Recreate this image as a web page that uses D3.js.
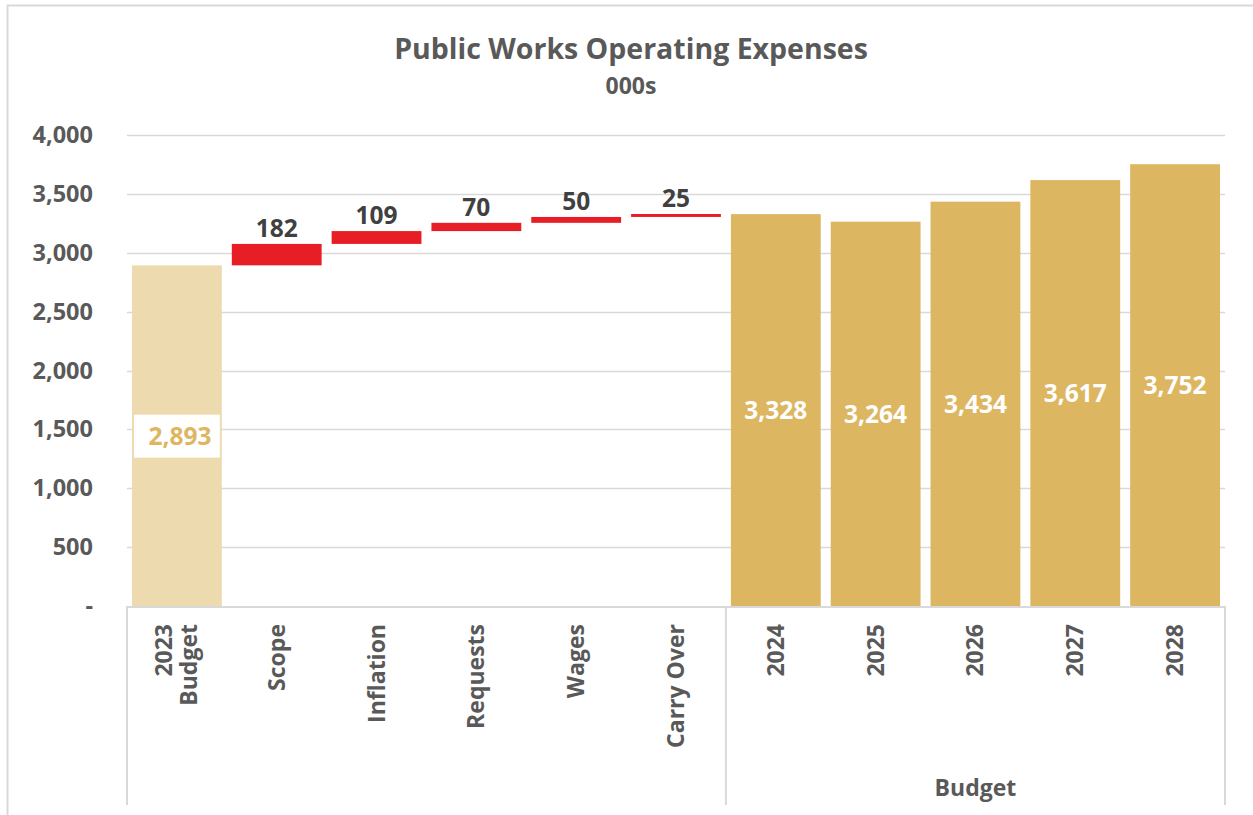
<!DOCTYPE html>
<html>
<head>
<meta charset="utf-8">
<script src="https://cdn.jsdelivr.net/npm/d3@7"></script>
<style>
  html, body { margin: 0; padding: 0; background: #fff; }
  svg { display: block; font-family: "Open Sans", "Noto Sans", sans-serif; }
</style>
</head>
<body>
<svg id="chart" width="1253" height="815"></svg>
<script>
// Category labels (one per bar); multi-line labels split with "\n"
const categories = ["2023\nBudget", "Scope", "Inflation", "Requests", "Wages", "Carry Over",
                    "2024", "2025", "2026", "2027", "2028"];
// Bar kind: start total, waterfall increment, forecast budget
const kinds = ["start", "step", "step", "step", "step", "step",
               "budget", "budget", "budget", "budget", "budget"];
// Values in thousands
const values = [2893, 182, 109, 70, 50, 25, 3328, 3264, 3434, 3617, 3752];
// Second-level category groups: [first index, last index, label]
const groups = [[0, 5, ""], [6, 10, "Budget"]];
// Y axis ticks
const yTicks = [0, 500, 1000, 1500, 2000, 2500, 3000, 3500, 4000];

const svg = d3.select("#chart");
const W = 1253, H = 815;
const plot = { left: 127, right: 1225, top: 135, bottom: 606 };

const colors = { start: "#EEDAAF", step: "#E81E27", budget: "#DDB662" };
const textGray = "#595959";
const gridGray = "#D9D9D9";
const FS = { title: 28.5, sub: 23, tick: 23.5, value: 24.5, cat: 23, group: 23 };

// Chart area border
svg.append("path")
  .attr("d", `M7.5,${H + 2} V5.5 H${W + 2}`)
  .attr("fill", "none").attr("stroke", gridGray).attr("stroke-width", 2);

// Scales
const x = d3.scaleBand().domain(d3.range(categories.length))
  .range([plot.left, plot.right]).paddingInner(0.1).paddingOuter(0.05);
const y = d3.scaleLinear().domain([0, 4000]).range([plot.bottom, plot.top]);

// Floating segments for the waterfall part
let running = 0;
const bars = values.map((v, i) => {
  let lo, hi;
  if (kinds[i] === "start") { lo = 0; hi = v; running = v; }
  else if (kinds[i] === "step") { lo = running; hi = running + v; running = hi; }
  else { lo = 0; hi = v; }
  return { i, v, lo, hi, kind: kinds[i] };
});

// Gridlines
svg.append("g")
  .selectAll("line").data(yTicks.filter(t => t > 0)).join("line")
  .attr("x1", plot.left).attr("x2", plot.right)
  .attr("y1", d => Math.round(y(d)) + 0.5).attr("y2", d => Math.round(y(d)) + 0.5)
  .attr("stroke", gridGray).attr("stroke-width", 1.5);

// Y axis labels
const yAxis = d3.axisLeft(y).tickValues(yTicks)
  .tickFormat(d => d === 0 ? "-" : d3.format(",")(d)).tickSize(0).tickPadding(0);
const gy = svg.append("g").attr("transform", `translate(${93},0)`).call(yAxis);
gy.select(".domain").remove();
gy.selectAll("text")
  .attr("fill", textGray).attr("font-size", FS.tick).attr("font-weight", "bold")
  .attr("font-family", "'Open Sans', sans-serif");

// Bars
svg.append("g").selectAll("rect").data(bars).join("rect")
  .attr("x", d => x(d.i))
  .attr("width", x.bandwidth())
  .attr("y", d => y(d.hi))
  .attr("height", d => y(d.lo) - y(d.hi))
  .attr("fill", d => colors[d.kind]);

// Value labels: steps above the bar, totals centred in the bar
const labels = svg.append("g").attr("font-weight", "bold").attr("text-anchor", "middle");
bars.forEach(d => {
  const cx = x(d.i) + x.bandwidth() / 2;
  const txt = d3.format(",")(d.v);
  if (d.kind === "step") {
    labels.append("text").attr("x", cx).attr("y", y(d.hi) - 7)
      .attr("font-size", FS.value).attr("fill", "#404040").text(txt);
  } else if (d.kind === "start") {
    const cy = y(d.hi / 2);
    labels.append("rect").attr("x", x(d.i) + 2).attr("y", cy - 21)
      .attr("width", x.bandwidth() - 4).attr("height", 43).attr("fill", "#fff");
    labels.append("text").attr("x", cx + 3).attr("y", cy + 9)
      .attr("font-size", FS.value).attr("fill", "#DDB662").text(txt);
  } else {
    labels.append("text").attr("x", cx).attr("y", y(d.hi / 2) + 9)
      .attr("font-size", FS.value).attr("fill", "#fff").text(txt);
  }
});

// Category axis lines
const axisG = svg.append("g").attr("stroke", gridGray).attr("stroke-width", 2);
axisG.append("line").attr("x1", plot.left - 1).attr("x2", plot.right + 1)
  .attr("y1", plot.bottom + 1).attr("y2", plot.bottom + 1);
// Group boundaries: plot edges and the midpoint between groups
const bounds = [plot.left];
groups.forEach((g, k) => {
  if (k < groups.length - 1) bounds.push((x(g[1]) + x.bandwidth() + x(groups[k + 1][0])) / 2);
});
bounds.push(plot.right);
axisG.selectAll("line.div").data(bounds).join("line").attr("class", "div")
  .attr("x1", d => d).attr("x2", d => d)
  .attr("y1", plot.bottom + 1).attr("y2", 805);

// Rotated category labels
const catG = svg.append("g").attr("fill", textGray).attr("font-size", FS.cat).attr("font-weight", "bold");
categories.forEach((c, i) => {
  const lines = c.split("\n");
  const cx = x(i) + x.bandwidth() / 2;
  const lh = 25;
  lines.forEach((ln, j) => {
    const off = (j - (lines.length - 1) / 2) * lh + 8;
    catG.append("text")
      .attr("transform", `translate(${cx + off},${624}) rotate(-90)`)
      .attr("text-anchor", "end").text(ln);
  });
});

// Group labels
groups.forEach((g, k) => {
  if (!g[2]) return;
  svg.append("text")
    .attr("x", (bounds[k] + bounds[k + 1]) / 2).attr("y", 796)
    .attr("text-anchor", "middle").attr("fill", textGray)
    .attr("font-size", FS.group).attr("font-weight", "bold").text(g[2]);
});

// Title and subtitle
svg.append("text").attr("x", 631).attr("y", 59).attr("text-anchor", "middle")
  .attr("fill", textGray).attr("font-size", FS.title).attr("font-weight", "bold")
  .text("Public Works Operating Expenses");
svg.append("text").attr("x", 631).attr("y", 94).attr("text-anchor", "middle")
  .attr("fill", textGray).attr("font-size", FS.sub).attr("font-weight", "bold")
  .text("000s");
</script>
</body>
</html>
